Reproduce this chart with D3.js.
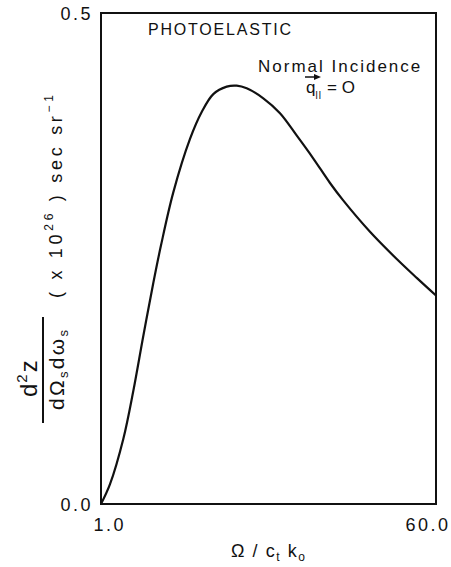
<!DOCTYPE html>
<html>
<head>
<meta charset="utf-8">
<script src="https://cdn.jsdelivr.net/npm/d3@7"></script>
<style>
  html, body { margin: 0; padding: 0; background: #fff; }
  svg text { font-family: "Liberation Sans", Arial, sans-serif; fill: #111; }
</style>
</head>
<body>
<svg id="chart" width="451" height="567"></svg>
<script>
// ---- data ----
const omegaRatio = [1.0, 2.585, 4.927, 6.689, 8.450, 10.211, 11.567, 13.733, 16.675, 18.735, 20.778, 23.138, 24.899, 26.660, 29.584, 32.525, 35.519, 38.337, 41.331, 43.621, 48.376, 53.131, 56.654, 60.0];
const crossSection = [0.0, 0.0202, 0.0662, 0.1151, 0.1711, 0.2251, 0.2634, 0.3173, 0.3717, 0.3991, 0.4174, 0.4250, 0.4260, 0.4233, 0.4131, 0.3979, 0.3748, 0.3523, 0.3269, 0.3094, 0.2772, 0.2492, 0.2300, 0.2123];
const xTicks = [1.0, 60.0];
const yTicks = [0.0, 0.5];
const titleText = "PHOTOELASTIC";
const noteText = "Normal Incidence";

// ---- layout ----
const svg = d3.select("#chart");
const pLeft = 101, pRight = 436, pTop = 13, pBottom = 504;

const x = d3.scaleLinear().domain([1, 60]).range([pLeft, pRight]);
const y = d3.scaleLinear().domain([0, 0.5]).range([pBottom, pTop]);

// frame
svg.append("rect")
  .attr("x", pLeft).attr("y", pTop)
  .attr("width", pRight - pLeft).attr("height", pBottom - pTop)
  .attr("fill", "none").attr("stroke", "#111").attr("stroke-width", 2);

// axes (labels only)
const yAxis = svg.append("g")
  .attr("transform", `translate(${pLeft},0)`)
  .call(d3.axisLeft(y).tickValues(yTicks).tickSize(0).tickPadding(8).tickFormat(d3.format(".1f")));
yAxis.select(".domain").remove();
yAxis.selectAll("text").attr("font-size", 18).attr("font-family", "Liberation Sans, Arial, sans-serif")
  .attr("fill", "#111").attr("dy", "0.36em").attr("letter-spacing", 2.5);

const xAxis = svg.append("g")
  .attr("transform", `translate(0,${pBottom})`)
  .call(d3.axisBottom(x).tickValues(xTicks).tickSize(0).tickPadding(14).tickFormat(d3.format(".1f")));
xAxis.select(".domain").remove();
xAxis.selectAll("text").attr("font-size", 18).attr("font-family", "Liberation Sans, Arial, sans-serif")
  .attr("fill", "#111").attr("letter-spacing", 2.5)
  .attr("text-anchor", (d, i) => i === 0 ? "start" : "end")
  .attr("dx", (d, i) => i === 0 ? -8 : 14);

// curve
const line = d3.line()
  .x((d, i) => x(omegaRatio[i]))
  .y(d => y(d))
  .curve(d3.curveCatmullRom.alpha(0.5));
svg.append("path")
  .datum(crossSection)
  .attr("d", line)
  .attr("fill", "none").attr("stroke", "#111").attr("stroke-width", 2.2)
  .attr("stroke-linejoin", "round");

// annotations
svg.append("text").attr("x", 148).attr("y", 35)
  .attr("font-size", 16).attr("letter-spacing", 1.8).text(titleText);

svg.append("text").attr("x", 258).attr("y", 72)
  .attr("font-size", 17).attr("letter-spacing", 2).text(noteText);

// q_parallel = O with arrow
const q = svg.append("text").attr("x", 306).attr("y", 93).attr("font-size", 17);
q.append("tspan").text("q");
q.append("tspan").attr("font-size", 10).attr("dy", 6).attr("letter-spacing", 1).text("ll");
q.append("tspan").attr("dy", -6).attr("dx", 5).text("=");
q.append("tspan").attr("dx", 5).text("O");
svg.append("line").attr("x1", 305).attr("x2", 317).attr("y1", 77).attr("y2", 77)
  .attr("stroke", "#111").attr("stroke-width", 1.5);
svg.append("path").attr("d", "M314,74 L321,77 L314,80 Z").attr("fill", "#111");

// x-axis title
const xl = svg.append("text").attr("x", 231).attr("y", 557).attr("font-size", 18)
  .attr("textLength", 74).attr("lengthAdjust", "spacing");
xl.append("tspan").text("Ω / c");
xl.append("tspan").attr("font-size", 12).attr("dy", 4).text("t");
xl.append("tspan").attr("dy", -4).text(" k");
xl.append("tspan").attr("font-size", 12).attr("dy", 4).text("o");

// y-axis title (rotated)
const yl = svg.append("g").attr("transform", "translate(43,372) rotate(-90)");
yl.append("line").attr("x1", -51).attr("x2", 55).attr("y1", 0).attr("y2", 0)
  .attr("stroke", "#111").attr("stroke-width", 2);
const num = yl.append("text").attr("x", -25).attr("y", -6)
  .attr("font-size", 24).attr("letter-spacing", 2);
num.append("tspan").text("d");
num.append("tspan").attr("font-size", 15).attr("dy", -10).attr("dx", -1).text("2");
num.append("tspan").attr("dy", 10).text("z");
const den = yl.append("text").attr("x", -38).attr("y", 21)
  .attr("font-size", 21).attr("textLength", 80).attr("lengthAdjust", "spacing");
den.append("tspan").text("dΩ");
den.append("tspan").attr("font-size", 13).attr("dy", 4).text("s");
den.append("tspan").attr("dy", -4).text("dω");
den.append("tspan").attr("font-size", 13).attr("dy", 4).text("s");

const unit = yl.append("text").attr("x", 74).attr("y", 19)
  .attr("font-size", 18).attr("textLength", 203).attr("lengthAdjust", "spacing");
unit.append("tspan").text("( x 10");
unit.append("tspan").attr("font-size", 12).attr("dy", -9).text("26");
unit.append("tspan").attr("dy", 9).text(" )  sec  sr");
unit.append("tspan").attr("font-size", 12).attr("dy", -9).text("−1");
</script>
</body>
</html>
